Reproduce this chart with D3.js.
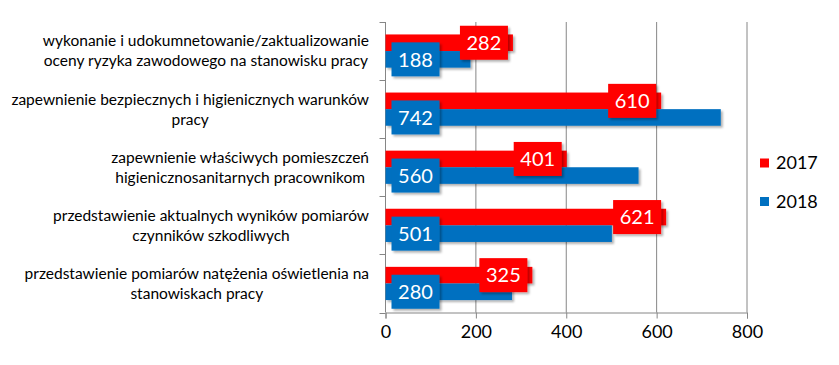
<!DOCTYPE html>
<html>
<head>
<meta charset="utf-8">
<script src="https://cdn.jsdelivr.net/npm/d3@7"></script>
<style>
  html, body { margin: 0; padding: 0; background: #fff; }
  svg { display: block; }
  text { font-family: Lato, "Open Sans", sans-serif; }
</style>
</head>
<body>
<svg id="chart" width="839" height="365"></svg>
<script>
const categories = [
  ["wykonanie i udokumnetowanie/zaktualizowanie", "oceny ryzyka zawodowego na stanowisku pracy"],
  ["zapewnienie bezpiecznych i higienicznych warunków", "pracy"],
  ["zapewnienie właściwych pomieszczeń", "higienicznosanitarnych pracownikom"],
  ["przedstawienie aktualnych wyników pomiarów", "czynników szkodliwych"],
  ["przedstawienie pomiarów natężenia oświetlenia na", "stanowiskach pracy"]
];
const seriesNames = ["2017", "2018"];
const values2017 = [282, 610, 401, 621, 325];
const values2018 = [188, 742, 560, 501, 280];
const xTicks = [0, 200, 400, 600, 800];
const colors = { "2017": "#FF0000", "2018": "#0070C0" };

const svg = d3.select("#chart");
const defs = svg.append("defs");
const f = defs.append("filter").attr("id", "shadow").attr("x", "-10%").attr("y", "-30%").attr("width", "130%").attr("height", "180%");
f.append("feDropShadow").attr("dx", 2).attr("dy", 2).attr("stdDeviation", 1.2)
  .attr("flood-color", "#000").attr("flood-opacity", 0.3);

const x = d3.scaleLinear().domain([0, 800]).range([385.5, 747]);
const catIdx = categories.map((d, i) => i);
const y = d3.scaleBand().domain(catIdx).range([22, 312.5]).paddingInner(0).paddingOuter(0);
const ySub = d3.scaleBand().domain(seriesNames).range([0, y.bandwidth()]).paddingInner(0).paddingOuter(0.75);

const gridColor = "#868686";

// gridlines
svg.append("g").selectAll("line").data(xTicks.filter(t => t > 0)).join("line")
  .attr("x1", d => x(d)).attr("x2", d => x(d))
  .attr("y1", 22).attr("y2", 312.5)
  .attr("stroke", gridColor).attr("stroke-width", 1);

// x axis
const xAxis = svg.append("g").attr("transform", "translate(0,312.5)")
  .call(d3.axisBottom(x).tickValues(xTicks).tickSize(6).tickPadding(7).tickFormat(d3.format("d")));
xAxis.select(".domain").attr("stroke", gridColor);
xAxis.selectAll(".tick line").attr("stroke", gridColor);
xAxis.selectAll(".tick text").attr("font-size", "18px").attr("fill", "#000")
  .attr("font-family", "Lato, sans-serif");

// y axis (category boundary ticks)
const yAxisG = svg.append("g");
yAxisG.append("line").attr("x1", x(0)).attr("x2", x(0)).attr("y1", 22).attr("y2", 312.5).attr("stroke", gridColor);
const bounds = catIdx.map(i => y(i)).concat([y(catIdx.length - 1) + y.bandwidth()]);
yAxisG.selectAll("line.tk").data(bounds).join("line").attr("class", "tk")
  .attr("x1", x(0) - 6).attr("x2", x(0)).attr("y1", d => Math.round(d) + 0.5).attr("y2", d => Math.round(d) + 0.5)
  .attr("stroke", gridColor);

// category labels
const labelRight = 369;
const labG = svg.append("g");
categories.forEach((lines, i) => {
  const t = labG.append("text").attr("font-size", "15.5px").attr("fill", "#000").attr("text-anchor", "middle");
  const cy = y(i) + y.bandwidth() / 2;
  const n = lines.length;
  lines.forEach((ln, j) => {
    t.append("tspan").attr("x", 0).attr("y", cy + (j - (n - 1) / 2) * 20).attr("dy", "0.35em").text(ln);
  });
  let maxW = 0;
  t.selectAll("tspan").each(function() { maxW = Math.max(maxW, this.getComputedTextLength()); });
  t.attr("transform", `translate(${labelRight - maxW / 2},0)`);
  t.selectAll("tspan").attr("x", 0);
});

// bars
const rows = catIdx.map(i => ({ i, "2017": values2017[i], "2018": values2018[i] }));
const barsG = svg.append("g");
rows.forEach(r => {
  seriesNames.forEach(s => {
    barsG.append("rect")
      .attr("x", x(0)).attr("y", y(r.i) + ySub(s))
      .attr("width", x(r[s]) - x(0)).attr("height", ySub.bandwidth())
      .attr("fill", colors[s]).attr("filter", "url(#shadow)");
  });
});

// data labels
const boxW = 48, boxH = 34;
const lblG = svg.append("g");
rows.forEach(r => {
  seriesNames.forEach(s => {
    const cy = y(r.i) + ySub(s) + ySub.bandwidth() / 2;
    const bx = s === "2017" ? x(r[s]) - 5 - boxW : x(0) + 6;
    const g = lblG.append("g");
    g.append("rect").attr("x", bx).attr("y", cy - boxH / 2).attr("width", boxW).attr("height", boxH)
      .attr("fill", colors[s]).attr("filter", "url(#shadow)");
    g.append("text").attr("x", bx + boxW / 2).attr("y", cy).attr("dy", "0.36em")
      .attr("text-anchor", "middle").attr("font-size", "20px").attr("fill", "#fff").text(r[s]);
  });
});

// legend
const legG = svg.append("g");
seriesNames.forEach((s, k) => {
  const cy = 163 + k * 38.5;
  legG.append("rect").attr("x", 760).attr("y", cy - 4.5).attr("width", 9).attr("height", 9).attr("fill", colors[s]);
  legG.append("text").attr("x", 776).attr("y", cy).attr("dy", "0.36em").attr("font-size", "18px").attr("fill", "#000").text(s);
});
</script>
</body>
</html>
